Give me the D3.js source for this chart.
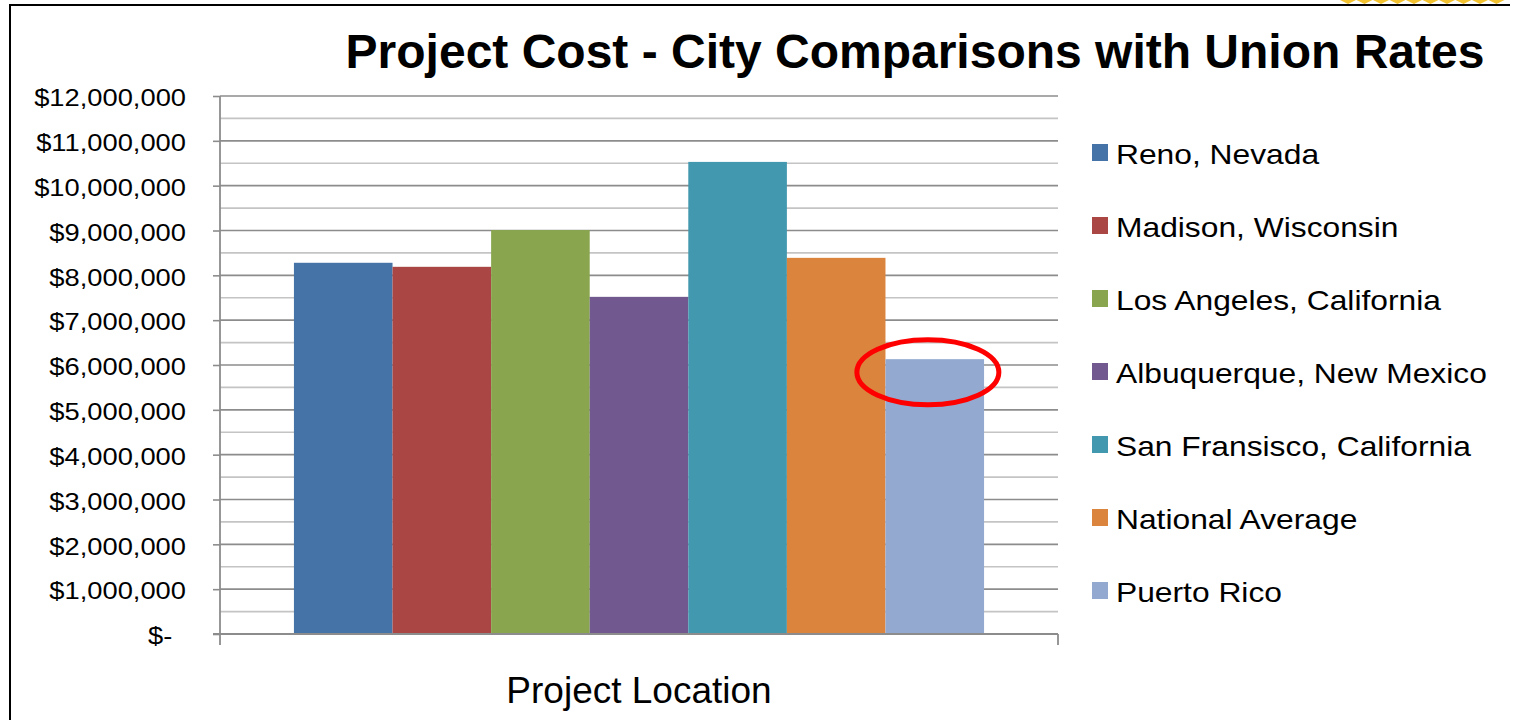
<!DOCTYPE html>
<html>
<head>
<meta charset="utf-8">
<script src="https://cdn.jsdelivr.net/npm/d3@7"></script>
<style>
  html, body { margin: 0; padding: 0; background: #ffffff; }
  svg { display: block; font-family: "Liberation Sans", Arial, sans-serif; }
</style>
</head>
<body>
<svg id="chart" width="1518" height="720"></svg>
<script>
// Project cost by location (single category, one bar per city)
const cities = [
  "Reno, Nevada",
  "Madison, Wisconsin",
  "Los Angeles, California",
  "Albuquerque, New Mexico",
  "San Fransisco, California",
  "National Average",
  "Puerto Rico"
];
const costs = [8280000, 8190000, 9010000, 7520000, 10530000, 8390000, 6130000];
const colors = ["#4572A7", "#AA4643", "#89A54E", "#71588F", "#4198AF", "#DB843D", "#93A9CF"];
const yTicks = [0, 1000000, 2000000, 3000000, 4000000, 5000000, 6000000,
                7000000, 8000000, 9000000, 10000000, 11000000, 12000000];
const highlighted = "Puerto Rico";

const svg = d3.select("#chart");
const W = 1518, H = 720;
const plot = { left: 220, right: 1058, top: 96, bottom: 634 };

// Outer frame (left and top edges visible)
svg.append("path")
  .attr("d", `M10,${H + 2} L10,5 L1510,5`)
  .attr("fill", "none")
  .attr("stroke", "#000")
  .attr("stroke-width", 2);

// Decorative gold trim at the top right
const trim = svg.append("g");
d3.range(10).forEach(i => {
  const cx = 1348 + i * 16.5;
  trim.append("path")
    .attr("d", `M${cx - 8},0 L${cx},4 L${cx + 8},0 Z`)
    .attr("fill", "#F2C230");
});

// Scales
const y = d3.scaleLinear().domain([0, 12000000]).range([plot.bottom, plot.top]);
const x = d3.scaleBand().domain(cities).range([plot.left, plot.right])
  .paddingInner(0).paddingOuter(0.75);

// Gridlines: major every 1,000,000, minor halfway between
const minor = d3.range(500000, 12000000, 1000000);
svg.append("g").selectAll("line").data(minor).join("line")
  .attr("x1", plot.left).attr("x2", plot.right)
  .attr("y1", d => y(d)).attr("y2", d => y(d))
  .attr("stroke", "#c4c4c4").attr("stroke-width", 1.6);
svg.append("g").selectAll("line").data(yTicks.filter(d => d > 0)).join("line")
  .attr("x1", plot.left).attr("x2", plot.right)
  .attr("y1", d => y(d)).attr("y2", d => y(d))
  .attr("stroke", "#8c8c8c").attr("stroke-width", 1.6);

// Bars
svg.append("g").selectAll("rect").data(cities).join("rect")
  .attr("x", d => x(d))
  .attr("width", x.bandwidth())
  .attr("y", (d, i) => y(costs[i]))
  .attr("height", (d, i) => y(0) - y(costs[i]))
  .attr("fill", (d, i) => colors[i]);

// Y axis
const tickSx = 1.115;
const fmt = d3.format("$,");
const yAxis = d3.axisLeft(y)
  .tickValues(yTicks)
  .tickSize(7)
  .tickSizeOuter(0)
  .tickFormat(d => d === 0 ? "$-\u2002" : fmt(d));
const yg = svg.append("g")
  .attr("transform", `translate(${plot.left},0)`)
  .call(yAxis);
yg.select(".domain").remove();
yg.selectAll(".tick line").attr("stroke", "#8c8c8c").attr("stroke-width", 1.6);
yg.selectAll(".tick text")
  .attr("x", -34 / tickSx)
  .attr("dy", "0.4em")
  .attr("transform", `scale(${tickSx},1)`)
  .attr("fill", "#000")
  .style("font-family", "'Liberation Sans', Arial, sans-serif")
  .style("font-size", "24.5px")
  .style("white-space", "pre");

// Axis lines
svg.append("line")
  .attr("x1", plot.left).attr("x2", plot.left)
  .attr("y1", plot.top).attr("y2", plot.bottom + 11)
  .attr("stroke", "#8c8c8c").attr("stroke-width", 1.8);
svg.append("line")
  .attr("x1", plot.left - 7).attr("x2", plot.right)
  .attr("y1", plot.bottom).attr("y2", plot.bottom)
  .attr("stroke", "#8c8c8c").attr("stroke-width", 1.8);
svg.append("line")
  .attr("x1", plot.right).attr("x2", plot.right)
  .attr("y1", plot.bottom).attr("y2", plot.bottom + 11)
  .attr("stroke", "#8c8c8c").attr("stroke-width", 1.8);

// Highlight ring around the lowest-cost location
const hi = cities.indexOf(highlighted);
svg.append("ellipse")
  .attr("cx", x(highlighted) + x.bandwidth() * 0.43)
  .attr("cy", y(costs[hi]) + 13)
  .attr("rx", 71)
  .attr("ry", 32.5)
  .attr("fill", "none")
  .attr("stroke", "#FF0000")
  .attr("stroke-width", 5);

// Title
svg.append("text")
  .attr("x", 915).attr("y", 68)
  .attr("text-anchor", "middle")
  .style("font-size", "48px")
  .style("font-weight", "bold")
  .text("Project Cost - City Comparisons with Union Rates");

// Category axis title
svg.append("text")
  .attr("x", (plot.left + plot.right) / 2).attr("y", 703)
  .attr("text-anchor", "middle")
  .style("font-size", "37px")
  .text("Project Location");

// Legend
const legendY = d3.scalePoint().domain(cities).range([154, 592]);
const legSx = 1.135;
const leg = svg.append("g").selectAll("g").data(cities).join("g")
  .attr("transform", d => `translate(1092,${legendY(d)})`);
leg.append("rect")
  .attr("x", 0).attr("y", -10)
  .attr("width", 16).attr("height", 17)
  .attr("fill", (d, i) => colors[i]);
leg.append("text")
  .attr("transform", `translate(24,10) scale(${legSx},1)`)
  .style("font-size", "28px")
  .attr("fill", "#000")
  .text(d => d);
</script>
</body>
</html>
